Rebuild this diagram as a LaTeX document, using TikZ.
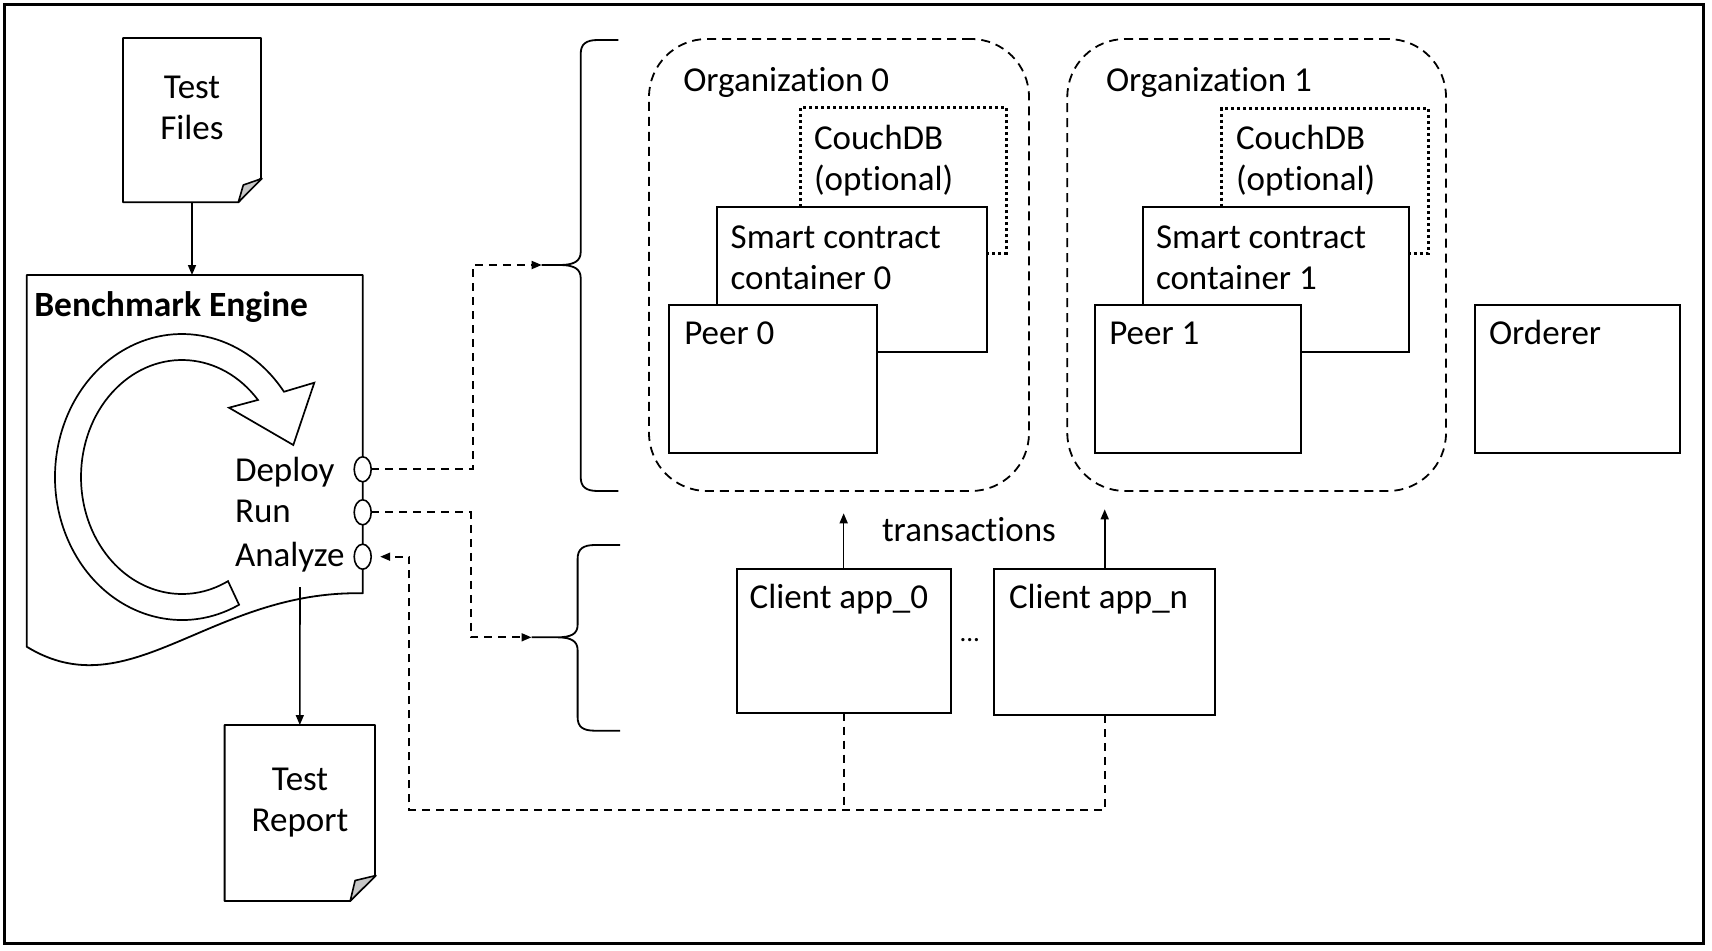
\documentclass[tikz,border=0pt]{standalone}
\usepackage{fontspec}
\setmainfont{Carlito}[Ligatures={NoCommon}]
\usetikzlibrary{arrows.meta,shapes.geometric,calc}
\newcommand{\twol}[2]{\begin{tabular}[t]{@{}l@{}}#1\\#2\end{tabular}}
\newcommand{\twoc}[2]{\begin{tabular}[t]{@{}c@{}}#1\\#2\end{tabular}}
\tikzset{
  every node/.style={font=\fontsize{35}{41.5}\selectfont, inner sep=0pt, outer sep=0pt},
  box/.style={draw, line width=2pt, fill=white, rectangle, anchor=north west},
  orgbox/.style={draw, line width=1.8pt, dash pattern=on 9pt off 6pt, rounded corners=58pt, rectangle, anchor=north west},
  dotbox/.style={draw, line width=3pt, dash pattern=on 3pt off 3pt, rectangle, anchor=north west},
  lbl/.style={anchor=base west},
  tip/.style={-{Triangle[length=10pt,width=8pt]}},
  conn/.style={line width=1.6pt, tip},
  dconn/.style={line width=1.8pt, dash pattern=on 8pt off 6pt},
  thin/.style={line width=1.8pt},
  port/.style={ellipse, draw, fill=white, line width=1.6pt, minimum width=17pt, minimum height=25pt},
  fold/.style={line width=1.6pt, fill=black!22, line join=round}
}
\begin{document}
\begin{tikzpicture}[x=1pt,y=1pt,yscale=-1]
\useasboundingbox (0,0) rectangle (1712,950);
\draw[line width=3pt] (4.5,4.5) rectangle (1703,943);

% Test Files document
\node[anchor=north west, minimum width=138pt, minimum height=164.3pt] (tf) at (123,38) {};
\draw[thin, line join=round] (123,38) -- (261,38) -- (261,178) -- (238.3,202.3) -- (123,202.3) -- cycle;
\draw[fold] (238.3,202.3) -- (243.3,185) -- (262,178.5) -- cycle;
\node[anchor=base] (tftxt) at (192,98) {\twoc{Test}{Files}};

% Benchmark engine
\node[anchor=north west, minimum width=336pt, minimum height=318pt] (eng) at (26.7,275) {};
\draw[thin, line join=round] (26.7,275) -- (362.7,275) -- (362.7,593.3)
  .. controls (210,590) and (130,710) .. (26.7,646.7) -- cycle;
\node[lbl, font=\fontsize{35.5}{41.5}\selectfont\bfseries] (engname) at (34.3,316.7) {Benchmark Engine};
\coordinate (cc) at (182,477);
\draw[line width=1.7pt, line join=miter]
  (cc) ++(63.3:127 and 143) arc[start angle=63.3, end angle=323.4, x radius=127, y radius=143]
  -- (314.3,382.7) -- (293.3,445) -- (229,407.7) -- ($(cc)+(318.8:101 and 117)$)
  arc[start angle=318.8, end angle=62.9, x radius=101, y radius=117] -- cycle;
\node[port] (dep) at (362.7,469.3) {};
\node[port] (run) at (362.7,512.3) {};
\node[port] (ana) at (362.7,556.7) {};
\node[lbl] (deptxt) at (235,481.7) {Deploy};
\node[lbl] (runtxt) at (235,522.7) {Run};
\node[lbl] (anatxt) at (235,566.7) {Analyze};

% Test Report document
\node[anchor=north west, minimum width=150.4pt, minimum height=176pt] (rep) at (224.6,725) {};
\draw[thin, line join=round] (224.6,725) -- (375,725) -- (375,876) -- (350.2,901) -- (224.6,901) -- cycle;
\draw[fold] (350.2,901) -- (355.1,880.5) -- (376,875.5) -- cycle;
\node[anchor=base] (reptxt) at (300,790) {\twoc{Test}{Report}};

\draw[conn] (tf.south) -- (tf.south |- eng.north);
\coordinate (engout) at (300,587);
\draw[conn] (engout) -- (rep.north);

% braces
\coordinate (b1) at (541.7,265);
\coordinate (b2) at (531.5,637.3);
\draw[thin] (618.3,40) -- (598,40) .. controls (586,40) and (580.7,44) .. (580.7,54) -- (580.7,252)
  .. controls (580.7,261) and (574,265) .. (560,265) -- (b1) -- (560,265)
  .. controls (574,265) and (580.7,269) .. (580.7,278) -- (580.7,477)
  .. controls (580.7,487) and (586,491) .. (598,491) -- (618.3,491);
\draw[thin] (620,545) -- (595,545) .. controls (583,545) and (577.6,549) .. (577.6,559) -- (577.6,625)
  .. controls (577.6,634) and (571,637.3) .. (557,637.3) -- (b2) -- (557,637.3)
  .. controls (571,637.3) and (577.6,641) .. (577.6,650) -- (577.6,717)
  .. controls (577.6,727) and (583,730.7) .. (595,730.7) -- (620,730.7);

% organizations
\node[orgbox, minimum width=380pt, minimum height=452pt] (org0) at (649,39) {};
\node[orgbox, minimum width=378.7pt, minimum height=452pt] (org1) at (1067.3,39) {};
\node[lbl] (org0txt) at (683.3,91.7) {Organization 0};
\node[lbl] (org1txt) at (1106,91.7) {Organization 1};

\node[dotbox, minimum width=206pt, minimum height=145.6pt] (db0) at (800,107.7) {};
\node[dotbox, minimum width=206.6pt, minimum height=145.3pt] (db1) at (1221.7,108) {};
\node[lbl] (db0txt) at (814,149.3) {\twol{CouchDB}{(optional)}};
\node[lbl] (db1txt) at (1236,149.3) {\twol{CouchDB}{(optional)}};

\node[box, minimum width=269.4pt, minimum height=145pt] (sc0) at (717.3,207.3) {};
\node[box, minimum width=265.7pt, minimum height=145pt] (sc1) at (1143.3,207.3) {};
\node[lbl] (sc0txt) at (730.7,248.3) {\twol{Smart contract}{container 0}};
\node[lbl] (sc1txt) at (1156,248.3) {\twol{Smart contract}{container 1}};

\node[box, minimum width=207.7pt, minimum height=147.7pt] (peer0) at (669,305) {};
\node[box, minimum width=206pt, minimum height=147.7pt] (peer1) at (1095,305) {};
\node[box, minimum width=205pt, minimum height=147.7pt] (ord) at (1475,305) {};
\node[lbl] (peer0txt) at (684.3,344) {Peer 0};
\node[lbl] (peer1txt) at (1109.3,344) {Peer 1};
\node[lbl] (ordtxt) at (1489,344) {Orderer};

% clients
\node[box, minimum width=214.3pt, minimum height=143.7pt] (c0) at (736.5,569) {};
\node[box, minimum width=220.6pt, minimum height=146pt] (cn) at (994.4,569) {};
\node[lbl] (c0txt) at (749.6,608.3) {Client app\_0};
\node[lbl] (cntxt) at (1009,608.3) {Client app\_n};
\node[lbl, font=\fontsize{27}{30}\selectfont] (dots) at (959.5,641.7) {...};
\node[lbl] (trtxt) at (882,541.7) {transactions};
\coordinate (t0) at (843.2,513.3);
\coordinate (tn) at (1105,509.3);
\draw[conn] (c0.north) -- (c0.north |- t0);
\draw[conn] (cn.north) -- (cn.north |- tn);

% dashed connectors
\draw[dconn, tip] (dep.east) -- (472.7,469.3) |- (b1);
\draw[dconn, tip] (run.east) -- (470.7,512.3) |- (b2);
\coordinate (ret) at (409.3,810);
\draw[dconn] (c0.south) -- (c0.south |- ret);
\draw[dconn, tip, shorten >=9pt] (cn.south) |- (ret) |- (ana.east);
\end{tikzpicture}
\end{document}
